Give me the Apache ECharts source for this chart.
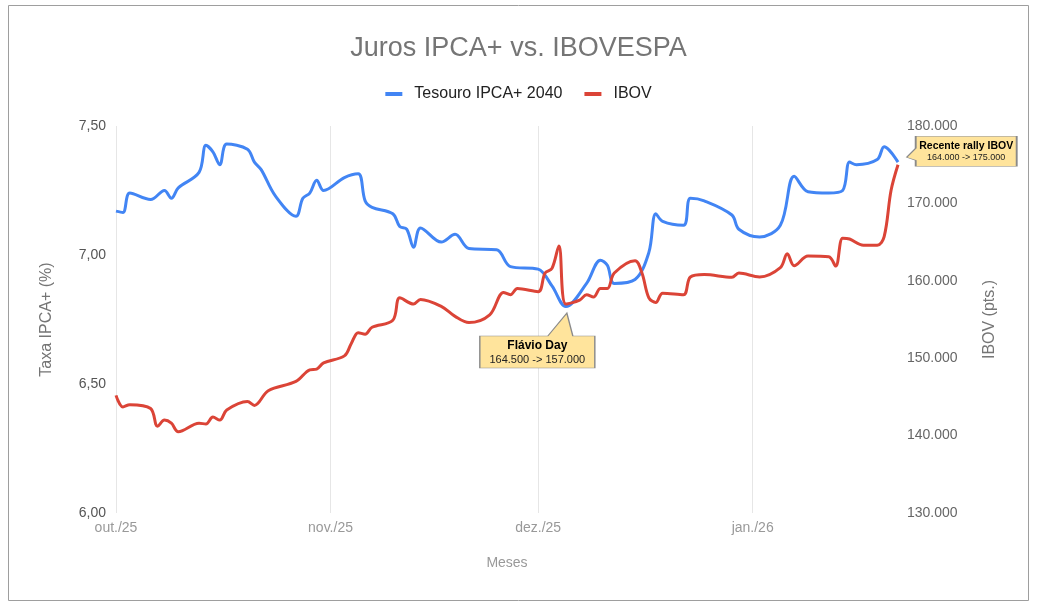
<!DOCTYPE html>
<html>
<head>
<meta charset="utf-8">
<script src="https://cdn.jsdelivr.net/npm/echarts@6/dist/echarts.min.js"></script>
<style>
html,body{margin:0;padding:0;background:#fff;}
#chart{width:1037px;height:607px;}
</style>
</head>
<body>
<div id="chart"></div>
<script>
// ---- data ----
const startDate = '2025-10-01';
const endDate = '2026-01-22';
const monthTickLabels = { '2025-10-01': 'out./25', '2025-11-01': 'nov./25', '2025-12-01': 'dez./25', '2026-01-01': 'jan./26' };

const ipcaDates = ['2025-10-01','2025-10-02','2025-10-03','2025-10-06','2025-10-08','2025-10-09','2025-10-10','2025-10-13','2025-10-14','2025-10-15','2025-10-16','2025-10-17','2025-10-20','2025-10-21','2025-10-22','2025-10-24','2025-10-27','2025-10-28','2025-10-29','2025-10-30','2025-10-31','2025-11-03','2025-11-05','2025-11-06','2025-11-07','2025-11-10','2025-11-11','2025-11-12','2025-11-13','2025-11-14','2025-11-17','2025-11-19','2025-11-21','2025-11-25','2025-11-27','2025-12-01','2025-12-03','2025-12-05','2025-12-08','2025-12-10','2025-12-11','2025-12-12','2025-12-15','2025-12-17','2025-12-18','2025-12-19','2025-12-22','2025-12-23','2025-12-25','2025-12-29','2025-12-30','2026-01-02','2026-01-05','2026-01-07','2026-01-09','2026-01-12','2026-01-14','2026-01-15','2026-01-16','2026-01-19','2026-01-20','2026-01-22'];
const ipcaValues = [7.17,7.165,7.24,7.215,7.25,7.22,7.26,7.32,7.425,7.40,7.35,7.43,7.41,7.36,7.33,7.23,7.15,7.22,7.24,7.29,7.25,7.30,7.315,7.21,7.185,7.16,7.11,7.10,7.03,7.105,7.05,7.08,7.025,7.02,6.955,6.945,6.88,6.80,6.89,6.98,6.96,6.89,6.905,7.01,7.16,7.13,7.115,7.22,7.21,7.155,7.10,7.07,7.115,7.305,7.245,7.24,7.25,7.36,7.35,7.37,7.42,7.36];

const ibovDates = ['2025-10-01','2025-10-02','2025-10-03','2025-10-06','2025-10-07','2025-10-08','2025-10-09','2025-10-10','2025-10-13','2025-10-14','2025-10-15','2025-10-16','2025-10-17','2025-10-20','2025-10-21','2025-10-23','2025-10-27','2025-10-29','2025-10-30','2025-10-31','2025-11-03','2025-11-04','2025-11-05','2025-11-06','2025-11-07','2025-11-10','2025-11-11','2025-11-13','2025-11-14','2025-11-17','2025-11-19','2025-11-21','2025-11-24','2025-11-26','2025-11-27','2025-11-28','2025-12-01','2025-12-02','2025-12-03','2025-12-04','2025-12-05','2025-12-07','2025-12-08','2025-12-09','2025-12-10','2025-12-11','2025-12-12','2025-12-15','2025-12-16','2025-12-17','2025-12-18','2025-12-19','2025-12-22','2025-12-23','2025-12-25','2025-12-29','2025-12-30','2026-01-02','2026-01-05','2026-01-06','2026-01-07','2026-01-09','2026-01-12','2026-01-13','2026-01-14','2026-01-15','2026-01-17','2026-01-19','2026-01-20','2026-01-21','2026-01-22'];
const ibovValues = [145200,143700,144000,143500,141200,142000,141600,140500,141600,141500,142400,142000,143300,144400,143900,145800,147000,148500,148600,149400,150300,151900,153300,153100,154000,154900,157800,157000,157600,156700,155400,154600,155600,158500,158200,159000,158600,161000,161600,164500,157000,157500,158200,157900,159000,159000,161000,162600,161000,157800,157200,158400,158200,160500,160800,160450,161000,160500,161700,163500,161950,163200,163100,161900,165500,165400,164600,164600,165700,171700,175000];

const leftTicks = { min: 6, max: 7.5, step: 0.5 };
const rightTicks = { min: 130000, max: 180000, step: 10000 };

const flavioNote = { date: '2025-12-05', title: 'Flávio Day', text: '164.500 -> 157.000' };
const rallyNote = { date: '2026-01-22', title: 'Recente rally IBOV', text: '164.000 -> 175.000' };

// ---- build ----
const days = [];
{
  const d = new Date(startDate + 'T00:00:00Z');
  const e = new Date(endDate + 'T00:00:00Z');
  while (d <= e) { days.push(d.toISOString().slice(0, 10)); d.setUTCDate(d.getUTCDate() + 1); }
}
const isMonthStart = (i, v) => v in monthTickLabels;
const ptBR = v => String(v).replace(/\B(?=(\d{3})+(?!\d))/g, '.');
const ibovAt = date => ibovValues[ibovDates.indexOf(date)];

const FONT = 'Arial, "Liberation Sans", sans-serif';
const calloutFill = '#FFE49C';
const calloutBorder = '#8a8a8a';

const chart = echarts.init(document.getElementById('chart'), null, { renderer: 'canvas' });
chart.setOption({
  backgroundColor: '#fff',
  animation: false,
  textStyle: { fontFamily: FONT },
  title: {
    text: 'Juros IPCA+ vs. IBOVESPA',
    left: 'center', top: 30,
    textStyle: { fontSize: 27, fontWeight: 'normal', color: '#757575', fontFamily: FONT }
  },
  legend: {
    top: 81, left: 'center',
    icon: 'rect', itemWidth: 17, itemHeight: 4, itemGap: 22,
    textStyle: { fontSize: 16, color: '#222', fontFamily: FONT, padding: [0, 0, 0, 7] },
    data: ['Tesouro IPCA+ 2040', 'IBOV']
  },
  graphic: [{
    type: 'rect', shape: { x: 8.5, y: 5.5, width: 1020, height: 595 },
    style: { fill: 'none', stroke: '#9e9e9e', lineWidth: 1 }, silent: true
  }],
  grid: { left: 116, right: 139, top: 126, bottom: 94, containLabel: false },
  xAxis: {
    type: 'category', data: days, boundaryGap: false,
    name: 'Meses', nameLocation: 'middle', nameGap: 43,
    nameTextStyle: { fontSize: 14, color: '#999', fontFamily: FONT },
    axisLine: { show: false }, axisTick: { show: false },
    axisLabel: { interval: isMonthStart, formatter: v => monthTickLabels[v] || '', fontSize: 14, color: '#999', margin: 8, fontFamily: FONT },
    splitLine: { show: true, interval: isMonthStart, lineStyle: { color: '#e6e6e6', width: 1 } }
  },
  yAxis: [{
    type: 'value', position: 'left',
    min: leftTicks.min, max: leftTicks.max, interval: leftTicks.step,
    name: 'Taxa IPCA+ (%)', nameLocation: 'middle', nameRotate: 90, nameGap: 61,
    nameTextStyle: { fontSize: 16, color: '#757575', fontFamily: FONT },
    axisLine: { show: false }, axisTick: { show: false }, splitLine: { show: false },
    axisLabel: { formatter: v => v.toFixed(2).replace('.', ','), fontSize: 14, color: '#555', margin: 10, fontFamily: FONT }
  }, {
    type: 'value', position: 'right',
    min: rightTicks.min, max: rightTicks.max, interval: rightTicks.step,
    name: 'IBOV (pts.)', nameLocation: 'middle', nameRotate: 90, nameGap: 84,
    nameTextStyle: { fontSize: 16, color: '#757575', fontFamily: FONT },
    axisLine: { show: false }, axisTick: { show: false }, splitLine: { show: false },
    axisLabel: { formatter: v => ptBR(v), fontSize: 14, color: '#666', margin: 9, fontFamily: FONT }
  }],
  series: [{
    name: 'Tesouro IPCA+ 2040', type: 'line', yAxisIndex: 0,
    data: ipcaDates.map((d, i) => [d, ipcaValues[i]]),
    smooth: 0.35, showSymbol: false, symbol: 'none',
    lineStyle: { width: 3, color: '#4285F4' }, itemStyle: { color: '#4285F4' }, z: 3
  }, {
    name: 'IBOV', type: 'line', yAxisIndex: 1,
    data: ibovDates.map((d, i) => [d, ibovValues[i]]),
    smooth: 0.35, showSymbol: false, symbol: 'none',
    lineStyle: { width: 3, color: '#DB4437' }, itemStyle: { color: '#DB4437' }, z: 4,
    markPoint: {
      silent: true,
      itemStyle: { color: calloutFill, borderColor: calloutBorder, borderWidth: 1 },
      data: [{
        coord: [flavioNote.date, ibovAt(flavioNote.date)],
        symbol: 'path://M0 0 L6 23 L28 23 L28 55 L-87 55 L-87 23 L-19 23 Z',
        symbolSize: [115, 55], symbolOffset: [-28.5, 36.5],
        label: {
          show: true, position: 'inside', offset: [0, 11.5],
          formatter: '{t|' + flavioNote.title + '}\n{s|' + flavioNote.text + '}',
          rich: {
            t: { fontSize: 12, fontWeight: 'bold', color: '#000', lineHeight: 15, align: 'center', fontFamily: FONT },
            s: { fontSize: 11, color: '#222', lineHeight: 13, align: 'center', fontFamily: FONT }
          }
        }
      }, {
        coord: [rallyNote.date, ibovAt(rallyNote.date)],
        symbol: 'path://M0 0 L9 -9 L9 -21 L110 -21 L110 9 L9 9 L9 3 Z',
        symbolSize: [110, 30], symbolOffset: [63.7, -13.4],
        label: {
          show: true, position: 'inside', offset: [4.5, 0],
          formatter: '{t|' + rallyNote.title + '}\n{s|' + rallyNote.text + '}',
          rich: {
            t: { fontSize: 10.5, fontWeight: 'bold', color: '#000', lineHeight: 13, align: 'center', fontFamily: FONT },
            s: { fontSize: 9, color: '#222', lineHeight: 11, align: 'center', fontFamily: FONT }
          }
        }
      }]
    }
  }]
});
</script>
</body>
</html>
